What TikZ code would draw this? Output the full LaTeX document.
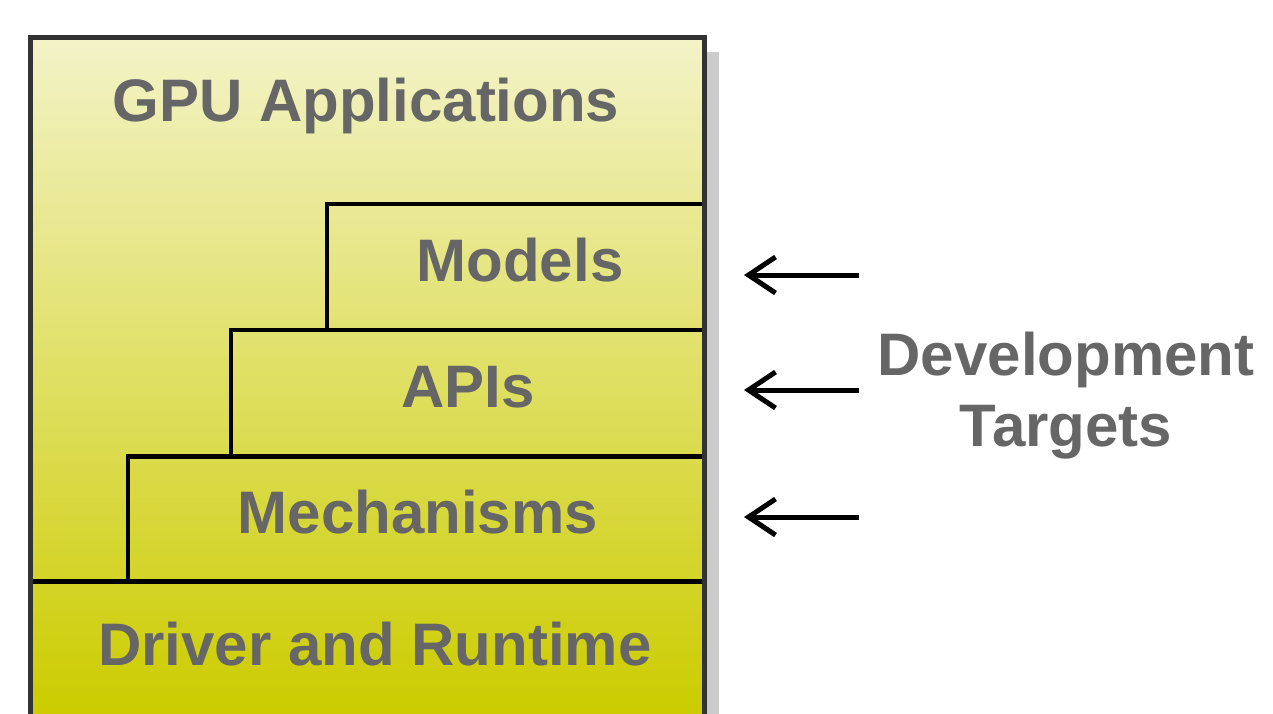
\documentclass[tikz,border=0pt]{standalone}
\usepackage{fontspec}
\setmainfont{Liberation Sans}
\usetikzlibrary{arrows.meta}
\definecolor{txtgray}{HTML}{666666}
\definecolor{frame}{HTML}{333333}
\definecolor{shadowgray}{HTML}{CCCCCC}
\definecolor{topyel}{RGB}{243,243,200}
\definecolor{botyel}{RGB}{204,204,0}
\tikzset{
  lbl/.style={font=\fontsize{60}{71}\selectfont\bfseries, text=txtgray, inner sep=0pt, anchor=base},
  stepline/.style={line width=4.5pt, black},
  target/.style={line width=5pt, black, -{Straight Barb[length=27pt,width=36pt,line width=5pt]}},
}
\begin{document}
\begin{tikzpicture}[x=1pt,y=-1pt]
\clip (0,0) rectangle (1273,713);
% shadow
\fill[shadowgray] (706,52) rectangle (719,760);
% gradient body
\shade[top color=topyel, bottom color=botyel] (30.5,37.5) rectangle (704.5,713);
% steps
\draw[stepline] (28,581.5) -- (704,581.5);
\draw[stepline] (128,581.5) -- (128,456.5) -- (704,456.5);
\draw[stepline] (231,456.5) -- (231,330) -- (704,330);
\draw[stepline] (327,330) -- (327,204) -- (704,204);
% outer frame
\draw[line width=5.5pt, frame] (30.5,760) -- (30.5,37.5) -- (704.5,37.5) -- (704.5,760);
% labels
\node[lbl] (gpu) at (366,121) {GPU Applications};
\node[lbl] (models) at (520,281) {Models};
\node[lbl] (apis) at (468,407) {APIs};
\node[lbl] (mech) at (418,533) {Mechanisms};
\node[lbl] (drv) at (375,665) {Driver and Runtime};
\node[lbl, align=center] (dev) at (1066,446) {Development\\Targets};
% arrows
\coordinate (s1) at (859,275); \coordinate (e1) at (744,275);
\coordinate (s2) at (859,390); \coordinate (e2) at (744,390);
\coordinate (s3) at (859,517); \coordinate (e3) at (744,517);
\draw[target] (s1) -- (e1);
\draw[target] (s2) -- (e2);
\draw[target] (s3) -- (e3);
\end{tikzpicture}
\end{document}
